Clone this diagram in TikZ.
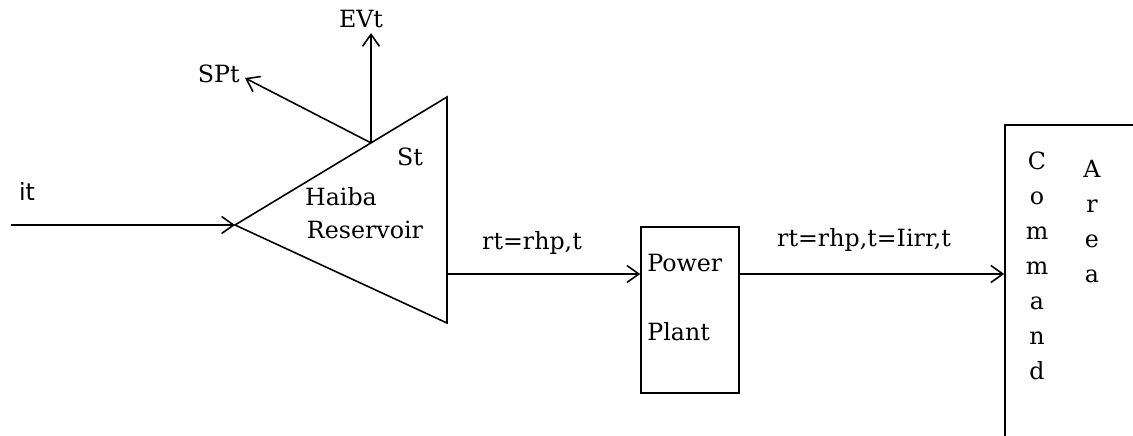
\documentclass[tikz,border=0pt]{standalone}
\usepackage{fontspec}
\setmainfont{DejaVu Serif}
\newfontfamily\labsans{DejaVu Sans}
\usepackage{tikz}
\usetikzlibrary{arrows.meta, positioning, calc}

\begin{document}
\begin{tikzpicture}[
    x=0.02cm, y=-0.02cm,
    link/.style={line width=0.9pt},
    flow/.style={link, -{Straight Barb[length=0.24cm, width=0.34cm]}},
    box/.style={draw, line width=0.9pt, rectangle, inner sep=0pt},
    txt/.style={inner sep=0pt, font=\fontsize{13.5}{16}\selectfont},
    every node/.style={align=left}
]
\useasboundingbox (0,0) rectangle (1133,436);

% --- Haiba Reservoir (triangle) ---
\coordinate (resL) at (235,225);
\coordinate (resT) at (447,97);
\coordinate (resB) at (447,323);
\coordinate (resO) at (447,274);
\coordinate (resTop) at ($(resL)!0.6415!(resT)$);
\draw[link] (resL) -- (resT) -- (resB) -- cycle;
\node[txt] (St) at (410,157) {St};
\node[txt] (haiba) at (341,197) {Haiba};
\node[txt] (resv) at (365,230) {Reservoir};

% --- Power Plant ---
\node[box, minimum width=1.96cm, minimum height=3.32cm] (pp) at (690,310) {};
\node[txt, anchor=west] (ppPower) at (647,263) {Power};
\node[txt, anchor=west] (ppPlant) at (647,332) {Plant};
\coordinate (ppO) at (739,274);

% --- Command Area (runs off the page) ---
\node[box, minimum width=3.5cm, minimum height=7.1cm] (area) at (1092.5,302.5) {};
\node[txt, align=center, font=\fontsize{13.5}{19.9}\selectfont] (cmd) at (1037,266)
    {C\\o\\m\\m\\a\\n\\d};
\node[txt, align=center, font=\fontsize{13.5}{19.9}\selectfont] (areaTxt) at (1092,221.5)
    {A\\r\\e\\a};

% --- inflow it ---
\coordinate (inS) at (11,225);
\node[txt, font=\labsans\fontsize{13.5}{16}\selectfont] (it) at (27,191) {it};
\draw[flow] (inS) -- (resL);

% --- EVt and SPt out of the reservoir ---
\coordinate (evTip) at (371,33);
\coordinate (spTip) at (245,78);
\node[txt] (ev) at (361,19) {EVt};
\node[txt, anchor=east] (sp) at (240,74) {SPt};
\draw[flow] (resTop) -- (evTip);
\draw[flow] (resTop) -- (spTip);

% --- releases ---
\draw[flow] (resO) -- (resO -| pp.west);
\node[txt] (r1) at (532,243) {rt=rhp,t};
\draw[flow] (ppO) -- (ppO -| area.west);
\node[txt] (r2) at (864,240) {rt=rhp,t=Iirr,t};

\end{tikzpicture}
\end{document}
